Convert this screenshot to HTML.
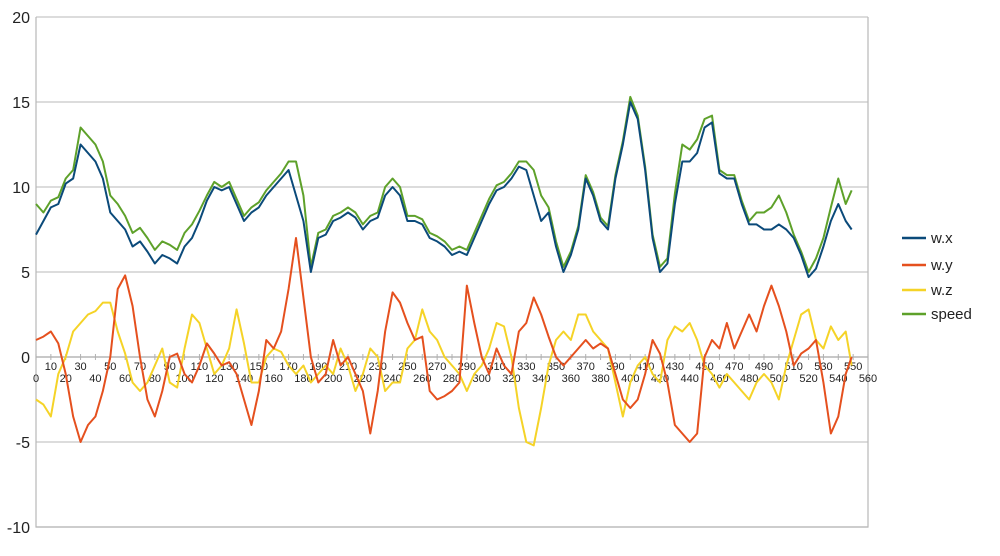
<!DOCTYPE html>
<html><head><meta charset="utf-8"><style>
html,body{margin:0;padding:0;background:#fff;}
svg{display:block;font-family:"Liberation Sans",sans-serif;}
</style></head><body>
<svg id="chart" width="1000" height="556"></svg>
<script>
const xTicks=[0,10,20,30,40,50,60,70,80,90,100,110,120,130,140,150,160,170,180,190,200,210,220,230,240,250,260,270,280,290,300,310,320,330,340,350,360,370,380,390,400,410,420,430,440,450,460,470,480,490,500,510,520,530,540,550,560];
const yTicks=[20,15,10,5,0,-5,-10];
const tIndex=[0,5,10,15,20,25,30,35,40,45,50,55,60,65,70,75,80,85,90,95,100,105,110,115,120,125,130,135,140,145,150,155,160,165,170,175,180,185,190,195,200,205,210,215,220,225,230,235,240,245,250,255,260,265,270,275,280,285,290,295,300,305,310,315,320,325,330,335,340,345,350,355,360,365,370,375,380,385,390,395,400,405,410,415,420,425,430,435,440,445,450,455,460,465,470,475,480,485,490,495,500,505,510,515,520,525,530,535,540,545,549];
const wx=[7.2,8,8.8,9,10.2,10.5,12.5,12,11.5,10.5,8.5,8,7.5,6.5,6.8,6.2,5.5,6,5.8,5.5,6.5,7,8,9.2,10,9.8,10,9,8,8.5,8.8,9.5,10,10.5,11,9.5,8,5,7,7.2,8,8.2,8.5,8.2,7.5,8,8.2,9.5,10,9.5,8,8,7.8,7,6.8,6.5,6,6.2,6,7,8,9,9.8,10,10.5,11.2,11,9.5,8,8.5,6.5,5,6,7.5,10.5,9.5,8,7.5,10.5,12.5,15,14,11,7,5,5.5,9,11.5,11.5,12,13.5,13.8,10.8,10.5,10.5,9,7.8,7.8,7.5,7.5,7.8,7.5,7,6,4.7,5.2,6.5,8,9,8,7.5];
const speed=[9,8.5,9.2,9.4,10.5,11,13.5,13,12.5,11.5,9.5,9,8.3,7.3,7.6,7,6.3,6.8,6.6,6.3,7.3,7.8,8.6,9.5,10.3,10,10.3,9.3,8.3,8.8,9.1,9.8,10.3,10.8,11.5,11.5,9.5,5.3,7.3,7.5,8.3,8.5,8.8,8.5,7.8,8.3,8.5,10,10.5,10,8.3,8.3,8.1,7.3,7.1,6.8,6.3,6.5,6.3,7.3,8.3,9.3,10.1,10.3,10.8,11.5,11.5,11,9.5,8.8,6.8,5.3,6.2,7.7,10.7,9.7,8.2,7.7,10.7,12.7,15.3,14.2,11.2,7.2,5.3,5.8,9.6,12.5,12.2,12.8,14,14.2,11,10.7,10.7,9.2,8,8.5,8.5,8.8,9.5,8.5,7.2,6.2,5,5.8,7,8.8,10.5,9,9.8];
const wy=[1,1.2,1.5,0.8,-1,-3.5,-5,-4,-3.5,-2,0,4,4.8,3,0,-2.5,-3.5,-2,0,0.2,-1,-1.5,-0.5,0.8,0.2,-0.5,-0.3,-1,-2.5,-4,-2,1,0.5,1.5,4,7,3.5,0,-1.5,-1,1,-0.5,0,-1,-2,-4.5,-2,1.5,3.8,3.2,2,1,1.2,-2,-2.5,-2.3,-2,-1.5,4.2,2,0,-1,0.5,-0.5,-1,1.5,2,3.5,2.5,1.2,0,-0.5,0,0.5,1,0.5,0.8,0.5,-1,-2.5,-3,-2.5,-1,1,0.2,-1.5,-4,-4.5,-5,-4.5,0,1,0.5,2,0.5,1.5,2.5,1.5,3,4.2,3,1.5,-0.5,0.2,0.5,1,-1.5,-4.5,-3.5,-1,0];
const wz=[-2.5,-2.8,-3.5,-1,0,1.5,2,2.5,2.7,3.2,3.2,1.5,0.2,-1.5,-2,-1.5,-0.5,0.5,-1.5,-1.8,0.5,2.5,2,0.5,-1,-0.5,0.5,2.8,0.8,-1.5,-1.5,0,0.5,0.3,-0.5,-1,-0.5,-1.5,-1,-0.5,-1,0.5,-0.5,-2,-1,0.5,0,-2,-1.5,-1.5,0.5,1,2.8,1.5,1,0,-0.5,-1,-2,-1,-0.5,0.5,2,1.8,0,-3,-5,-5.2,-3,-0.5,1,1.5,1,2.5,2.5,1.5,1,0.5,-1.5,-3.5,-1.5,-0.5,0,-1,-1.5,1,1.8,1.5,2,1,-0.5,-1,-1.8,-1,-1.5,-2,-2.5,-1.5,-1,-1.5,-2.5,-0.5,1,2.5,2.8,1,0.5,1.8,1,1.5,-0.5];
const seriesNames=["w.x","w.y","w.z","speed"];
const seriesColors=["#0b4a7a","#e5501e","#f5d327","#5ea12a"];

const NS="http://www.w3.org/2000/svg";
const svg=document.getElementById('chart');
const L=36,R=868,T=17,B=527;
const X=v=>L+(v-0)*(R-L)/560;
const Y=v=>T+(20-v)*(B-T)/30;
function mk(tag,attrs,parent){const e=document.createElementNS(NS,tag);for(const k in attrs)e.setAttribute(k,attrs[k]);(parent||svg).appendChild(e);return e;}

const grid=mk('g',{});


yTicks.forEach(v=>{
  const l=mk('line',{x1:L,x2:R,y1:Y(v),y2:Y(v),stroke:'#c8c8c8','stroke-width':1.2},grid);
  
  
  const t=mk('text',{x:L-6,y:Y(v)+6,'text-anchor':'end','font-size':16,fill:'#222'});
  t.textContent=v;
  
  
});
const frame=mk('path',{d:`M${L},${T}V${B}H${R}V${T}`,fill:'none',stroke:'#b8b8b8','stroke-width':1.2});


const ax=mk('line',{x1:L,x2:R,y1:Y(0),y2:Y(0),stroke:'#b0b0b0','stroke-width':1.2});


xTicks.forEach((v,i)=>{
  const tk=mk('line',{x1:X(v),x2:X(v),y1:Y(0)-3,y2:Y(0)+3,stroke:'#b0b0b0'});
  
  
  const t=mk('text',{x:X(v),y:(i%2===0)?Y(0)+25:Y(0)+13,'text-anchor':'middle','font-size':11,fill:'#222'});
  t.textContent=v;
  
  
});
function drawLine(vals,color,name){
  const p=mk('polyline',{points:vals.map((v,i)=>X(tIndex[i])+','+Y(v)).join(' '),fill:'none',stroke:color,'stroke-width':2,'stroke-linejoin':'round'});
  
  
}
drawLine(wz,seriesColors[2],'series-wz-line');
drawLine(wy,seriesColors[1],'series-wy-line');
drawLine(speed,seriesColors[3],'series-speed-line');
drawLine(wx,seriesColors[0],'series-wx-line');

const lg=mk('g',{});


const ly=[238,265,290,314];
seriesNames.forEach((n,i)=>{
  const g=mk('g',{},lg);
  
  
  mk('line',{x1:902,x2:926,y1:ly[i],y2:ly[i],stroke:seriesColors[i],'stroke-width':2.5},g);
  const t=mk('text',{x:931,y:ly[i]+5,'font-size':15,fill:'#222'},g);
  t.textContent=n;
});
</script>
</body></html>
